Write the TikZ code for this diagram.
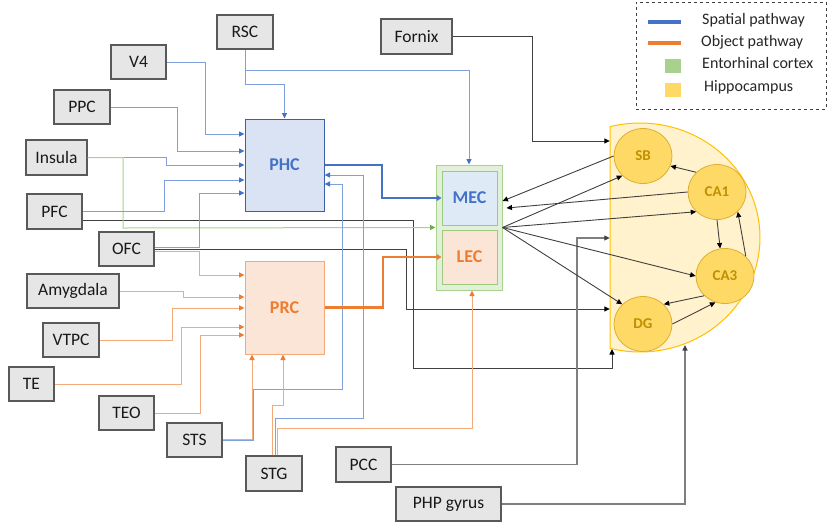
\documentclass[tikz,border=0pt]{standalone}
\usepackage{fontspec}
\setmainfont{Carlito}
\usetikzlibrary{arrows.meta,shapes.geometric}
\definecolor{boxfill}{HTML}{E7E6E6}
\definecolor{boxline}{HTML}{595959}
\definecolor{bluef}{HTML}{DAE3F3}
\definecolor{blued}{HTML}{4472C4}
\definecolor{bluel}{HTML}{7FA0DA}
\definecolor{orangef}{HTML}{FBE5D6}
\definecolor{oranged}{HTML}{ED7D31}
\definecolor{orangel}{HTML}{F5A878}
\definecolor{greenf}{HTML}{E2F0D9}
\definecolor{greenl}{HTML}{A9D18E}
\definecolor{greend}{HTML}{70AD47}
\definecolor{mecf}{HTML}{DEEBF7}
\definecolor{hipf}{HTML}{FFF2CC}
\definecolor{hipl}{HTML}{FFC000}
\definecolor{circf}{HTML}{FFD966}
\definecolor{circl}{HTML}{DDB035}
\definecolor{circt}{HTML}{BF9000}
\definecolor{dk}{HTML}{404040}
\definecolor{gy}{HTML}{7F7F7F}
\newcommand\lblfont{\fontsize{17.5}{20}\selectfont}
\newcommand\regfont{\fontsize{18}{21}\selectfont\bfseries}
\newcommand\cirfont{\fontsize{15}{18}\selectfont\bfseries}
\newcommand\legfont{\fontsize{16}{19}\selectfont}
\begin{document}
\begin{tikzpicture}[x=1pt,y=-1pt,
  gbox/.style={draw=boxline, fill=boxfill, line width=1.1pt, inner sep=0pt, font=\lblfont, text=black!90},
  region/.style={line width=1pt, inner sep=0pt, font=\regfont},
  circ/.style={ellipse, draw=circl, fill=circf, line width=0.8pt, minimum width=58pt, minimum height=55pt, inner sep=0pt, font=\cirfont, text=circt},
  bthin/.style={draw=bluel, line width=1pt, -{Triangle[length=5.5pt,width=5pt,color=blued]}},
  othin/.style={draw=orangel, line width=1pt, -{Triangle[length=5.5pt,width=5pt,color=oranged]}},
  gthin/.style={draw=greenl, line width=1pt, -{Triangle[length=5.5pt,width=5pt,color=greend]}},
  kthin/.style={draw=dk, line width=0.9pt, -{Triangle[length=5.5pt,width=5pt,color=black]}},
  ythin/.style={draw=gy, line width=1.1pt, -{Triangle[length=5.5pt,width=5pt,color=dk]}},
  bthick/.style={draw=blued, line width=2.6pt, -{Triangle[length=5pt,width=6pt]}},
  othick/.style={draw=oranged, line width=2.6pt, -{Triangle[length=5pt,width=6pt]}},
  legtext/.style={anchor=base west, font=\legfont, text=black!85, inner sep=0pt}
]
\useasboundingbox (0,0) rectangle (828,523);

% hippocampus region
\filldraw[fill=hipf, draw=hipl, line width=1pt]
  plot[domain=-104.48:104.48, samples=80] ({640+120*cos(\x)},{237.5+114.5*sin(\x)}) -- cycle;
\node[minimum width=150pt, minimum height=229pt, inner sep=0pt] (hip) at (685,237.5) {};
\coordinate (hipdg) at (612,349);
\coordinate (hipphp) at (685,345);

% circles
\node[circ] (sb) at (643,156) {SB};
\node[circ] (ca1) at (717,192) {CA1};
\node[circ] (ca3) at (725,276) {CA3};
\node[circ] (dg) at (643,324) {DG};

% entorhinal cortex
\node[draw=greenl, fill=greenf, line width=1pt, minimum width=66pt, minimum height=125pt, inner sep=0pt] (ec) at (469,227.5) {};
\node[region, draw=greenl!80!greend, fill=mecf, minimum width=55pt, minimum height=54pt, text=blued] (mec) at (469.5,198) {MEC};
\node[region, draw=greenl!80!greend, fill=orangef, minimum width=55pt, minimum height=54pt, text=oranged] (lec) at (469.5,257) {LEC};

% PHC / PRC
\node[region, draw=blued!85!black, fill=bluef, minimum width=79pt, minimum height=92pt, text=blued] (phc) at (284.5,165) {PHC};
\node[region, draw=orangel, fill=orangef, minimum width=79pt, minimum height=93pt, text=oranged] (prc) at (284.5,307.5) {PRC};

% gray boxes
\node[gbox, minimum width=56pt, minimum height=34pt] (rsc) at (245,32) {RSC};
\node[gbox, minimum width=55pt, minimum height=34pt] (v4) at (138.5,62) {V4};
\node[gbox, minimum width=56pt, minimum height=34pt] (ppc) at (82,107) {PPC};
\node[gbox, minimum width=61pt, minimum height=35pt] (insula) at (56.5,157.5) {Insula};
\node[gbox, minimum width=55pt, minimum height=35pt] (pfc) at (54.5,211.5) {PFC};
\node[gbox, minimum width=55pt, minimum height=34pt] (ofc) at (126.5,249) {OFC};
\node[gbox, minimum width=92pt, minimum height=34pt] (amy) at (73,291) {Amygdala};
\node[gbox, minimum width=56pt, minimum height=34pt] (vtpc) at (71,340) {VTPC};
\node[gbox, minimum width=45pt, minimum height=34pt] (te) at (31.5,384) {TE};
\node[gbox, minimum width=55pt, minimum height=34pt] (teo) at (126.5,413) {TEO};
\node[gbox, minimum width=55pt, minimum height=34pt] (sts) at (194.5,440) {STS};
\node[gbox, minimum width=56pt, minimum height=35pt] (stg) at (274,473.5) {STG};
\node[gbox, minimum width=55pt, minimum height=35pt] (pcc) at (363.5,464.5) {PCC};
\node[gbox, minimum width=105pt, minimum height=34pt] (php) at (448.5,504) {PHP gyrus};
\node[gbox, minimum width=71pt, minimum height=35pt] (fornix) at (416.5,36.5) {Fornix};

% black/gray inputs
\draw[kthin] ([yshift=-8.5pt]pfc.east) -| (413,368) -| (hipdg);
\draw[kthin] (ofc.east) -| (406,309) -- (hip.west |- 0,309);
\draw[kthin] (fornix.east) -| (532,141) -- (hip.west |- 0,141);
\draw[ythin] (pcc.east) -| (577,238) -- (hip.west |- 0,238);
\draw[ythin] (php.east) -| (hipphp);

% green
\draw[gthin] (insula.east) -| (123,228) -- (ec.west);

% blue thin
\draw[bthin] (rsc.south) -- ++(0,35) -| (phc.north);
\draw[bthin] (rsc.south) -- ++(0,21) -| (ec.north);
\draw[bthin] (v4.east) -| (205,134) -- (phc.west |- 0,134);
\draw[bthin] (ppc.east) -| (177,151) -- (phc.west |- 0,151);
\draw[bthin] ([xshift=36pt]insula.east) -| (166,165) -- (phc.west |- 0,165);
\draw[bthin] (pfc.east) -| (164,180) -- (phc.west |- 0,180);
\draw[bthin] ([yshift=2pt]ofc.east) -| (199,193) -- (phc.west |- 0,193);
\draw[bthin] ([yshift=-0.5pt]sts.east) -| (253,389) -| (342,184) -- (phc.east |- 0,184);
\draw[bthin] ([xshift=1pt]stg.north) |- (363,418) |- (phc.east |- 0,175);

% orange thin
\draw[othin] ([yshift=-2pt]ofc.east) -| (199,275) -- (prc.west |- 0,275);
\draw[othin] (amy.east) -| (183,297) -- (prc.west |- 0,297);
\draw[othin] (vtpc.east) -| (172,308) -- (prc.west |- 0,308);
\draw[othin] (te.east) -| (181,327) -- (prc.west |- 0,327);
\draw[othin] (teo.east) -| (200,335) -- (prc.west |- 0,335);
\draw[othin] ([yshift=0.5pt]sts.east) -| (prc.south -| 252,0);
\draw[othin] ([xshift=-2pt]stg.north) |- (283,405) -- (prc.south -| 283,0);
\draw[othin] ([xshift=3pt]stg.north) |- (472,428) -- (ec.south -| 472,0);

% thick pathways
\draw[bthick] (phc.east) -| (382,198) -- (mec.west);
\draw[othick] (prc.east) -| (383,257) -- (lec.west);

% EC <-> hippocampus
\draw[kthin] (ec.east) -- (sb.south west);
\draw[kthin] (ec.east) -- (ca1.south west);
\draw[kthin] (ec.east) -- (ca3.west);
\draw[kthin] (ec.east) -- (dg.north west);
\draw[kthin] (sb.west) -- (ec.east |- 0,201);
\draw[kthin] (ca1.west) -- ([xshift=4pt]ec.east |- 0,208);
\draw[kthin] (ca1.north west) -- (sb.-20);
\draw[kthin] (ca1.south) -- (ca3.100);
\draw[kthin] (ca3.north east) -- (ca1.south east);
\draw[kthin] (ca3.south west) -- (dg.north east);
\draw[kthin] (dg.east) -- (ca3.-110);

% legend
\node[draw=dk, dashed, line width=0.8pt, minimum width=190pt, minimum height=107pt, inner sep=0pt] (legend) at (731,55.5) {};
\node[fill=blued, minimum width=33pt, minimum height=4.5pt, inner sep=0pt] (lgb) at (664.5,22) {};
\node[fill=oranged, minimum width=33pt, minimum height=4.5pt, inner sep=0pt] (lgo) at (664.5,43) {};
\node[fill=greenl, minimum width=16pt, minimum height=14pt, inner sep=0pt] (lgg) at (672.5,66) {};
\node[fill=circf, minimum width=16pt, minimum height=14pt, inner sep=0pt] (lgy) at (672.5,90) {};
\node[legtext] (lt1) at (702,24) {Spatial pathway};
\node[legtext] (lt2) at (701,46) {Object pathway};
\node[legtext] (lt3) at (702,68) {Entorhinal cortex};
\node[legtext] (lt4) at (704,91) {Hippocampus};
\end{tikzpicture}
\end{document}
